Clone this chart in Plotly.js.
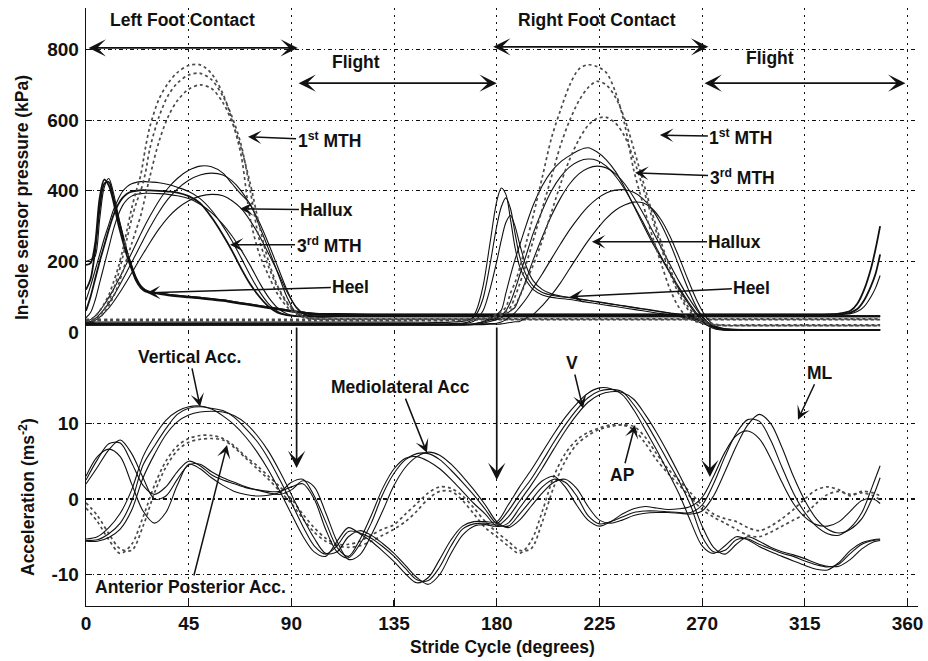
<!DOCTYPE html>
<html>
<head>
<meta charset="utf-8">
<script src="https://cdn.plot.ly/plotly-3.0.1.min.js"></script>
<style>
  html, body { margin: 0; padding: 0; background: #fff; }
  #chart { width: 928px; height: 661px; }
</style>
</head>
<body>
<div id="chart"></div>
<script>
// ---- Stride cycle sample positions (degrees) ----
const leftDeg = [0,2,4,6,8,10,12,14,16,18,20,22,24,26,28,32,36,40,45,50,55,60,64,68,72,76,80,84,88,92,96,100,110,125,140,155,170,185,200,215,230,245,260,275,290,305,320,330,335,338,341,344,346,348];
const rightDeg = [0,20,40,60,80,100,120,140,160,168,171,174,177,180,182,184,186,188,190,193,196,200,204,208,212,216,220,224,228,232,236,240,244,248,252,256,260,264,268,272,276,280,290,300,320,340,348];
const accDeg = [0,5,10,15,20,25,30,35,40,45,50,55,60,65,70,75,80,85,90,95,100,105,110,115,120,125,130,135,140,145,150,155,160,165,170,175,180,185,190,195,200,205,210,215,220,225,230,235,240,245,250,255,260,265,270,275,280,285,290,295,300,305,310,315,320,325,330,335,340,345,348];

// ---- Left foot in-sole pressure (kPa) ----
const leftHeel1 = [190,195,250,380,432,415,370,310,260,215,178,145,125,115,112,108,104,101,98,95,92,88,84,80,76,72,68,64,60,56,52,50,49,48,48,48,48,48,48,48,48,48,48,48,48,48,48,52,60,80,120,180,235,300];
const leftHeel2 = [120,150,230,350,420,425,380,325,275,225,185,150,128,118,113,110,106,103,100,97,94,90,86,82,78,74,70,66,62,58,55,52,50,49,49,49,49,49,49,49,49,49,49,49,49,49,49,50,55,65,90,130,165,220];
const leftHeel3 = [200,205,215,320,410,435,395,335,280,230,190,155,132,120,115,110,107,104,101,98,95,91,87,83,79,75,71,67,63,59,56,53,52,51,51,51,51,51,51,51,51,51,51,51,51,51,51,51,52,58,72,100,125,160];
const left3rdMTH1 = [60,100,150,200,245,290,330,360,380,392,398,400,402,402,401,400,398,395,385,365,325,275,230,180,135,100,72,55,48,45,44,44,44,44,44,44,44,44,44,44,44,44,44,44,44,44,44,44,44,44,44,44,44,44];
const left3rdMTH2 = [90,130,175,220,265,305,345,375,398,412,420,424,426,426,425,423,418,410,398,378,345,300,258,210,160,115,80,58,48,45,45,45,45,45,45,45,45,45,45,45,45,45,45,45,45,45,45,45,45,45,45,45,45,45];
const left3rdMTH3 = [40,55,90,140,190,240,290,330,358,375,385,390,392,393,393,392,390,386,378,362,338,305,272,232,188,140,98,68,52,46,45,45,46,46,46,46,46,46,46,46,46,46,46,46,46,46,46,46,46,46,46,46,46,46];
const leftHallux1 = [30,35,45,60,78,98,120,145,170,197,224,251,278,304,328,372,408,435,458,470,468,450,420,390,362,300,235,168,100,55,45,43,43,43,43,43,43,43,43,43,43,43,43,43,43,43,43,43,43,43,43,43,43,43];
const leftHallux2 = [25,30,38,50,65,82,102,124,148,172,197,222,247,272,296,340,377,405,430,445,450,445,428,400,360,310,250,185,120,70,48,43,44,44,44,44,44,44,44,44,44,44,44,44,44,44,44,44,44,44,44,44,44,44];
const leftHallux3 = [22,26,33,42,54,68,85,104,124,145,167,189,211,232,253,292,325,350,372,385,390,386,372,350,315,272,222,170,115,72,50,44,45,45,45,45,45,45,45,45,45,45,45,45,45,45,45,45,45,45,45,45,45,45];
const left1stMTH1 = [30,35,45,60,80,105,140,180,230,290,350,400,445,520,582,660,705,735,755,757,732,675,600,500,320,220,160,107,72,50,40,36,35,35,35,35,35,35,35,35,35,35,35,35,35,35,35,35,35,35,35,35,35,35];
const left1stMTH2 = [25,28,35,48,65,88,120,160,210,265,320,365,400,450,520,610,670,705,728,733,715,668,610,530,400,260,185,125,82,55,42,37,36,36,36,36,36,36,36,36,36,36,36,36,36,36,36,36,36,36,36,36,36,36];
const left1stMTH3 = [20,24,30,40,55,75,100,130,170,210,250,290,330,385,440,540,610,655,688,700,690,650,595,520,420,300,200,130,85,58,44,38,37,37,37,37,37,37,37,37,37,37,37,37,37,37,37,37,37,37,37,37,37,37];

// ---- Right foot in-sole pressure (kPa) ----
const rightHeel1 = [24,24,24,24,24,24,24,24,24,30,60,130,250,370,408,390,320,240,186,145,120,105,98,95,92,88,84,80,76,72,68,64,60,56,52,48,44,38,30,20,12,8,6,6,6,6,6];
const rightHeel2 = [28,28,28,28,28,28,28,28,28,35,50,95,190,300,355,380,350,280,215,160,130,112,104,100,97,93,89,85,81,77,73,69,65,61,57,53,48,42,34,24,14,9,7,7,7,7,7];
const rightHeel3 = [22,22,22,22,22,22,22,22,22,26,35,60,120,200,260,310,330,300,250,185,145,120,108,102,98,94,90,86,82,78,74,70,66,62,58,54,50,45,38,28,16,9,6,6,6,6,6];
const rightMidfoot1 = [20,20,20,20,20,20,20,20,20,22,25,30,38,50,62,110,160,205,245,305,360,415,455,482,500,515,522,510,488,455,410,358,305,255,210,165,120,80,45,20,8,5,5,5,5,5,5];
const rightMidfoot2 = [21,21,21,21,21,21,21,21,21,22,24,28,34,40,48,60,85,120,160,220,280,345,400,440,468,484,490,486,470,442,405,360,312,262,214,168,125,85,50,24,10,6,6,6,6,6,6];
const rightMidfoot3 = [19,19,19,19,19,19,19,19,19,20,22,25,30,35,40,50,60,70,100,150,205,270,330,380,420,448,464,470,465,448,420,382,338,290,240,190,142,98,60,30,12,6,6,6,6,6,6];
const rightHallux1 = [22,22,22,22,22,22,22,22,22,22,22,23,24,25,28,35,45,55,70,95,125,165,208,250,290,325,355,378,394,402,403,396,378,348,305,250,185,120,65,30,12,7,6,6,6,6,6];
const rightHallux2 = [21,21,21,21,21,21,21,21,21,21,21,21,22,22,23,25,27,29,30,40,50,75,105,140,180,220,258,292,322,345,360,368,366,350,318,270,210,145,85,40,15,7,6,6,6,6,6];
const right1stMTH1 = [32,32,32,32,32,32,32,32,32,33,35,38,42,50,58,70,110,140,180,255,330,440,550,630,700,745,757,752,735,680,590,460,365,275,195,120,68,40,28,22,20,18,18,18,18,18,18];
const right1stMTH2 = [34,34,34,34,34,34,34,34,34,35,36,38,40,44,50,58,70,100,135,195,260,350,440,530,600,655,692,710,700,665,605,520,430,340,255,180,115,70,42,28,22,20,20,20,20,20,20];
const right3rdMTH = [36,36,36,36,36,36,36,36,36,36,37,38,40,43,47,52,60,75,100,145,190,260,340,420,490,545,585,605,608,592,555,490,410,325,240,165,105,62,38,26,20,18,18,18,18,18,18];

// ---- Trunk acceleration (m/s^2) ----
const vertical1 = [-5.5,-5.4,-4.6,-3.2,-0.3,4.5,7.0,9.3,11.2,12.0, 12.2,12.0,11.7,10.8,9.3,7.6,5.3,2.5,-0.5,-3.6, -6.2,-7.3,-6.2,-4.3,-4.5,-5.2,-6.3,-7.6,-9.2,-10.7, -10.8,-9.0,-6.2,-4.0,-3.3,-3.2,-3.3,-1.6,0.6,2.6, 5.0,7.5,9.8,11.8,13.4,14.3,14.5,14.2,12.5,10.3, 7.7,5.0,2.3,-0.9,-5.0,-7.0,-6.8,-5.4,-5.3,-6.0, -6.6,-7.2,-7.6,-8.2,-8.7,-9.0,-8.6,-7.2,-6.0,-5.5, -5.4];
const vertical2 = [-5.6,-5.6,-5.1,-4.0,-1.5,2.8,5.9,8.5,10.2,11.1, 11.5,11.6,11.5,11.0,10.0,8.4,6.3,3.6,0.6,-2.5, -5.2,-7.2,-7.0,-5.0,-4.2,-4.8,-5.9,-7.2,-8.8,-10.4, -11.3,-10.0,-7.2,-4.8,-3.6,-3.4,-3.6,-2.4,-0.3,1.8, 4.1,6.6,9.0,11.1,12.8,13.8,14.2,14.1,13.2,11.2, 8.8,6.1,3.2,0.2,-3.6,-6.4,-7.3,-6.0,-5.0,-5.6, -6.4,-7.0,-7.4,-7.9,-8.5,-8.9,-8.9,-8.0,-6.6,-5.7, -5.5];
const vertical3 = [-5.3,-5.0,-3.8,-1.9,1.2,5.6,8.3,10.4,11.6,12.2, 12.3,11.9,11.0,9.8,8.2,6.2,3.8,1.0,-2.0,-4.9, -7.0,-7.6,-5.6,-3.8,-4.6,-5.6,-6.9,-8.3,-9.9,-11.1, -10.4,-8.0,-5.4,-3.6,-3.0,-3.0,-3.0,-0.8,1.6,3.8, 6.2,8.6,10.8,12.6,14.0,14.7,14.6,13.8,11.8,9.2, 6.5,3.6,0.6,-3.0,-6.2,-7.2,-6.2,-5.0,-5.4,-6.3, -7.0,-7.6,-8.2,-8.8,-9.3,-9.4,-8.4,-6.8,-5.8,-5.4, -5.3];
const medioLat1 = [2.5,5.2,7.3,7.4,4.8,1.8,0.6,1.6,3.6,5.0, 4.4,3.2,2.5,2.0,1.5,1.2,1.0,1.0,1.6,2.0, 0.0,-4.0,-7.0,-7.8,-6.0,-3.2,0.6,3.4,5.2,6.0, 6.0,5.2,3.8,2.2,0.5,-1.4,-3.3,-3.6,-2.0,-0.2, 1.6,2.6,2.2,0.4,-2.2,-3.3,-3.0,-2.4,-1.8,-1.6, -1.6,-1.7,-1.8,-1.8,-0.8,2.0,5.6,8.7,10.5,10.3, 7.8,4.2,0.8,-1.8,-3.6,-4.6,-4.8,-3.8,-1.8,2.0, 4.4];
const medioLat2 = [2.0,4.2,6.5,7.8,6.0,2.8,0.0,0.4,2.6,4.5, 4.6,3.6,2.8,2.2,1.6,1.2,0.8,0.6,1.2,2.4, 1.6,-1.8,-5.6,-8.0,-7.4,-4.8,-1.6,1.8,4.2,5.6, 6.2,5.8,4.6,3.0,1.2,-0.8,-3.0,-3.8,-2.8,-1.0, 0.8,2.2,2.6,1.4,-1.0,-2.8,-3.2,-2.8,-2.2,-1.9, -1.8,-1.8,-1.9,-2.0,-1.6,0.4,3.6,7.0,9.8,11.2, 10.0,6.8,3.0,-0.2,-2.6,-4.0,-4.5,-4.0,-2.6,0.4, 2.8];
const medioLat3 = [3.0,5.6,6.6,5.6,2.0,-1.6,-3.2,-1.8,1.8,4.6, 4.0,2.8,1.8,1.0,0.6,0.4,0.5,0.9,2.2,2.6, 0.4,-3.0,-6.4,-7.6,-5.4,-2.2,1.4,4.0,5.4,5.6, 5.0,4.0,2.6,1.0,-0.6,-2.0,-3.6,-3.2,-1.2,0.8, 2.4,3.0,1.6,-0.8,-2.8,-3.6,-3.0,-2.0,-1.3,-1.0, -1.2,-1.4,-1.3,-1.0,0.2,3.0,6.2,8.4,9.0,8.0, 5.4,2.2,-0.6,-2.4,-3.4,-3.6,-3.0,-1.6,-0.2,0.0, -0.6];
const antPost1 = [-0.5,-2.2,-4.6,-6.6,-6.8,-3.6,0.8,4.2,6.4,7.5, 7.9,8.0,7.8,6.8,5.4,4.0,2.6,1.0,-0.6,-2.6, -4.4,-5.6,-6.2,-6.4,-6.2,-5.6,-4.8,-4.0,-3.0,-1.6, 0.0,1.0,1.0,-0.2,-2.0,-3.8,-5.0,-6.2,-7.2,-5.6, -1.6,3.0,6.0,7.8,8.8,9.4,9.8,9.8,9.2,7.4, 5.2,3.4,1.8,0.2,-1.4,-2.4,-3.2,-4.0,-4.8,-5.0, -4.4,-3.6,-2.8,-2.0,-0.6,0.6,1.0,0.6,0.8,0.4, -0.1];
const antPost2 = [-1.2,-3.0,-5.4,-7.2,-6.0,-2.4,1.8,5.0,7.0,8.0, 8.4,8.4,8.0,7.0,5.6,4.4,3.0,1.6,0.0,-2.0, -3.8,-5.2,-6.0,-6.0,-5.6,-4.8,-4.0,-3.4,-2.0,-0.6, 0.8,1.6,1.4,0.4,-1.2,-3.0,-4.4,-5.6,-6.8,-6.6, -3.0,1.6,5.0,7.2,8.4,9.2,9.6,9.8,9.6,8.2, 6.0,4.0,2.4,0.8,-0.8,-2.0,-2.6,-3.0,-3.8,-4.2, -3.6,-2.6,-1.4,0.0,1.2,1.6,1.2,0.4,1.0,0.8, 0.4];

// ---- Axis ticks ----
const strideTicks = [0,45,90,135,180,225,270,315,360];
const pressureTicks = [0,200,400,600,800];
const accTicks = [-10,0,10];
const accTickText = ['-10','0','10'];

const INK = '#111111';
const solid = { color: INK, width: 1.1, dash: 'solid' };
const heavy = { color: INK, width: 1.8, dash: 'solid' };
const dotted = { color: '#4a4a4a', width: 1.7, dash: 'dot' };

function curve(x, y, axis, style) {
  return {
    type: 'scatter', mode: 'lines', x: x, y: y, yaxis: axis,
    line: { shape: 'spline', smoothing: 0.9, color: style.color, width: style.width, dash: style.dash },
    hoverinfo: 'skip', showlegend: false
  };
}

const traces = [
  // pressure panel
  curve(leftDeg, leftHeel1, 'y2', heavy),
  curve(leftDeg, leftHeel2, 'y2', heavy),
  curve(leftDeg, leftHeel3, 'y2', solid),
  curve(leftDeg, left3rdMTH1, 'y2', heavy),
  curve(leftDeg, left3rdMTH2, 'y2', solid),
  curve(leftDeg, left3rdMTH3, 'y2', solid),
  curve(leftDeg, leftHallux1, 'y2', solid),
  curve(leftDeg, leftHallux2, 'y2', solid),
  curve(leftDeg, leftHallux3, 'y2', solid),
  curve(leftDeg, left1stMTH1, 'y2', dotted),
  curve(leftDeg, left1stMTH2, 'y2', dotted),
  curve(leftDeg, left1stMTH3, 'y2', dotted),
  curve(rightDeg, rightHeel1, 'y2', solid),
  curve(rightDeg, rightHeel2, 'y2', solid),
  curve(rightDeg, rightHeel3, 'y2', solid),
  curve(rightDeg, rightMidfoot1, 'y2', solid),
  curve(rightDeg, rightMidfoot2, 'y2', solid),
  curve(rightDeg, rightMidfoot3, 'y2', solid),
  curve(rightDeg, rightHallux1, 'y2', solid),
  curve(rightDeg, rightHallux2, 'y2', solid),
  curve(rightDeg, right1stMTH1, 'y2', dotted),
  curve(rightDeg, right1stMTH2, 'y2', dotted),
  curve(rightDeg, right3rdMTH, 'y2', dotted),
  // acceleration panel
  curve(accDeg, antPost1, 'y', dotted),
  curve(accDeg, antPost2, 'y', dotted),
  curve(accDeg, vertical1, 'y', solid),
  curve(accDeg, vertical2, 'y', solid),
  curve(accDeg, vertical3, 'y', solid),
  curve(accDeg, medioLat1, 'y', solid),
  curve(accDeg, medioLat2, 'y', solid),
  curve(accDeg, medioLat3, 'y', solid)
];

const FAMILY = 'Liberation Sans, Arial, Helvetica, sans-serif';
const labelFont = { family: FAMILY, size: 17.5, color: INK, weight: 700 };

// text label with an arrow pointing at the curves
function pointer(text, tx, ty, px, py, yref) {
  return {
    text: text, x: px, y: py, xref: 'x', yref: yref,
    ax: tx, ay: ty, axref: 'x', ayref: yref,
    showarrow: true, arrowhead: 3, arrowsize: 1.5, arrowwidth: 1.5, arrowcolor: INK,
    font: labelFont, standoff: 0, startstandoff: 0
  };
}
// two-headed span arrow
function span(x0, x1, y) {
  return {
    text: '', x: x1, y: y, xref: 'x', yref: 'y2',
    ax: x0, ay: y, axref: 'x', ayref: 'y2',
    showarrow: true, arrowhead: 3, startarrowhead: 3, arrowside: 'end+start',
    arrowsize: 1.7, startarrowsize: 1.7, arrowwidth: 1.7, arrowcolor: INK
  };
}
// vertical marker from the pressure panel down into the acceleration panel
function drop(x, yTip) {
  return {
    text: '', x: x, y: yTip, xref: 'x', yref: 'y',
    ax: x, ay: 22.9, axref: 'x', ayref: 'y',
    showarrow: true, arrowhead: 3, arrowsize: 1.7, arrowwidth: 1.7, arrowcolor: INK
  };
}
function plainText(text, x, y) {
  return { text: text, x: x, y: y, xref: 'x', yref: 'y2', showarrow: false, font: labelFont };
}

const annotations = [
  plainText('Left Foot Contact', 42.1, 884),
  plainText('Right Foot Contact', 224, 884),
  plainText('Flight', 118.3, 764),
  plainText('Flight', 299.7, 776),
  span(0.5, 92.8, 805),
  span(177.8, 272.7, 808),
  span(92.5, 180.0, 705),
  span(270.4, 359.1, 705),
  pointer('1<sup>st</sup> MTH', 106.5, 544, 71.0, 553, 'y2'),
  pointer('Hallux', 105.6, 346, 67.5, 349, 'y2'),
  pointer('3<sup>rd</sup> MTH', 106.5, 247, 63.1, 247, 'y2'),
  pointer('Heel', 116.1, 128, 26.7, 111, 'y2'),
  pointer('1<sup>st</sup> MTH', 287.0, 553, 251.5, 558, 'y2'),
  pointer('3<sup>rd</sup> MTH', 287.5, 440, 240.6, 451, 'y2'),
  pointer('Hallux', 284.4, 256, 221.7, 256, 'y2'),
  pointer('Heel', 291.8, 125, 212.1, 100, 'y2'),
  pointer('Vertical Acc.', 45.4, 18.8, 50.0, 12.2, 'y'),
  pointer('Anterior Posterior Acc.', 46.0, -11.65, 61.8, 7.15, 'y'),
  pointer('Mediolateral Acc', 138.0, 14.8, 149.4, 6.1, 'y'),
  pointer('V', 213.0, 18.0, 217.8, 12.0, 'y'),
  pointer('AP', 234.9, 3.2, 240.6, 9.8, 'y'),
  pointer('ML', 321.6, 16.7, 312.0, 10.5, 'y'),
  drop(92.3, 4.1),
  drop(180.0, 2.5),
  drop(273.4, 2.9),
  // axis titles
  { text: 'In-sole sensor pressure (kPa)', xref: 'paper', yref: 'paper', x: -0.0769, y: 0.6823,
    xanchor: 'center', yanchor: 'middle', textangle: -90, showarrow: false, font: labelFont },
  { text: 'Acceleration (ms<sup>-2</sup>)', xref: 'paper', yref: 'paper', x: -0.0709, y: 0.1823,
    xanchor: 'center', yanchor: 'middle', textangle: -90, showarrow: false, font: labelFont },
  { text: 'Stride Cycle (degrees)', xref: 'paper', yref: 'paper', x: 0.5, y: -0.0686,
    xanchor: 'center', yanchor: 'middle', showarrow: false, font: labelFont }
];

const tickFont = { family: FAMILY, size: 19, color: INK, weight: 700 };
const axisCommon = {
  showline: true, linecolor: INK, linewidth: 1.3, ticks: 'inside', ticklen: 6, tickcolor: INK, tickwidth: 1.2,
  zeroline: false, showgrid: true, gridcolor: '#111111', gridwidth: 1.1, tickfont: tickFont, fixedrange: true
};

const layout = {
  width: 928, height: 661,
  margin: { l: 86, r: 10, t: 8, b: 55 },
  paper_bgcolor: '#ffffff', plot_bgcolor: '#ffffff',
  showlegend: false,
  font: tickFont,
  xaxis: Object.assign({}, axisCommon, {
    range: [0, 364.6], domain: [0, 1], anchor: 'y',
    tickmode: 'array', tickvals: strideTicks, griddash: '2px,5px', ticklabelstandoff: 0
  }),
  yaxis: Object.assign({}, axisCommon, {
    domain: [0, 0.4582], range: [-14.17, 22.1], anchor: 'x',
    tickmode: 'array', tickvals: accTicks, ticktext: accTickText, griddash: '4px,3px,1px,3px', ticklabelstandoff: 2
  }),
  yaxis2: Object.assign({}, axisCommon, {
    domain: [0.4582, 1], range: [0, 918], anchor: 'x',
    tickmode: 'array', tickvals: pressureTicks, griddash: '4px,3px,1px,3px', ticklabelstandoff: 2
  }),
  annotations: annotations
};

Plotly.newPlot('chart', traces, layout, { displayModeBar: false, staticPlot: true });
</script>
</body>
</html>
